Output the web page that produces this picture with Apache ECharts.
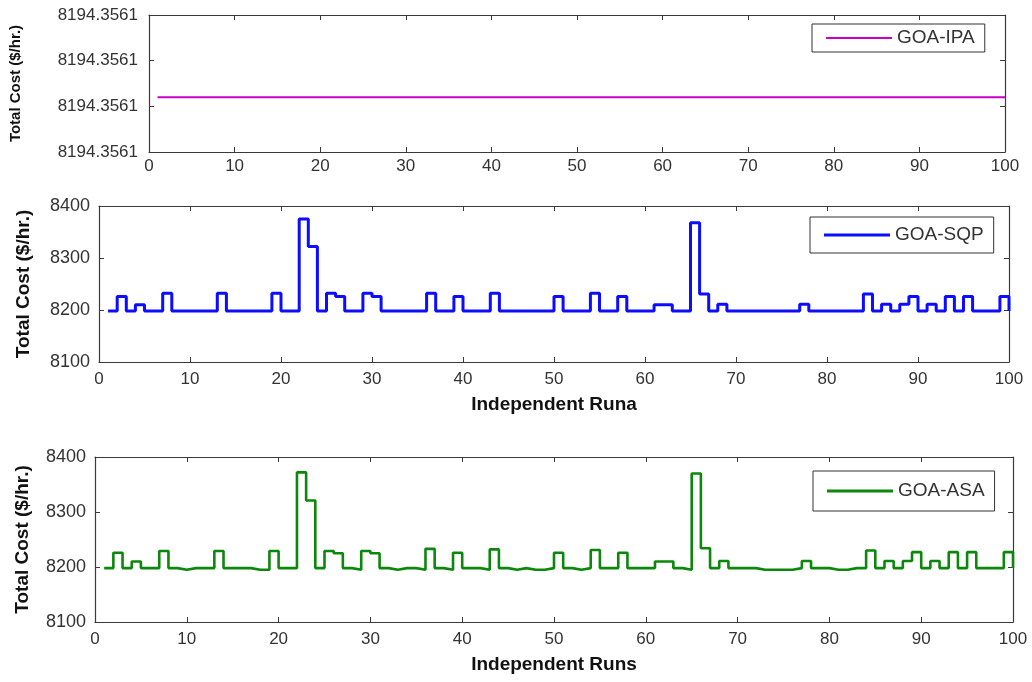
<!DOCTYPE html>
<html><head><meta charset="utf-8">
<script src="https://cdn.jsdelivr.net/npm/echarts@6/dist/echarts.min.js"></script>
<style>html,body{margin:0;padding:0;background:#fff}#c{width:1032px;height:682px}</style>
</head><body><div id="c"></div><script>
// ---- data ----
const X_MIN = 0, X_MAX = 100, X_INTERVAL = 10;
const IPA_NAME = 'GOA-IPA', SQP_NAME = 'GOA-SQP', ASA_NAME = 'GOA-ASA';
const Y_TITLE = 'Total Cost ($/hr.)';
const X_TITLE_2 = 'Independent Runa';
const X_TITLE_3 = 'Independent Runs';
// panel 1 axis (MATLAB shows identical rounded tick labels)
const IPA_Y = { min: 8194.35609, max: 8194.35612, interval: 0.00001 };
const COST_Y = { min: 8100, max: 8400, interval: 100 };

const ipaCost = [
 8194.356102,8194.356102,8194.356102,8194.356102,8194.356102,8194.356102,8194.356102,8194.356102,8194.356102,8194.356102,
 8194.356102,8194.356102,8194.356102,8194.356102,8194.356102,8194.356102,8194.356102,8194.356102,8194.356102,8194.356102,
 8194.356102,8194.356102,8194.356102,8194.356102,8194.356102,8194.356102,8194.356102,8194.356102,8194.356102,8194.356102,
 8194.356102,8194.356102,8194.356102,8194.356102,8194.356102,8194.356102,8194.356102,8194.356102,8194.356102,8194.356102,
 8194.356102,8194.356102,8194.356102,8194.356102,8194.356102,8194.356102,8194.356102,8194.356102,8194.356102,8194.356102,
 8194.356102,8194.356102,8194.356102,8194.356102,8194.356102,8194.356102,8194.356102,8194.356102,8194.356102,8194.356102,
 8194.356102,8194.356102,8194.356102,8194.356102,8194.356102,8194.356102,8194.356102,8194.356102,8194.356102,8194.356102,
 8194.356102,8194.356102,8194.356102,8194.356102,8194.356102,8194.356102,8194.356102,8194.356102,8194.356102,8194.356102,
 8194.356102,8194.356102,8194.356102,8194.356102,8194.356102,8194.356102,8194.356102,8194.356102,8194.356102,8194.356102,
 8194.356102,8194.356102,8194.356102,8194.356102,8194.356102,8194.356102,8194.356102,8194.356102,8194.356102,8194.356102
];
const sqpCost = [
 8198,8226,8198,8210,8198,8198,8232,8198,8198,8198,
 8198,8198,8232,8198,8198,8198,8198,8198,8232,8198,
 8198,8375,8322,8198,8232,8226,8198,8198,8232,8226,
 8198,8198,8198,8198,8198,8232,8198,8198,8226,8198,
 8198,8198,8232,8198,8198,8198,8198,8198,8198,8226,
 8198,8198,8198,8232,8198,8198,8226,8198,8198,8198,
 8210,8210,8198,8198,8368,8231,8198,8211,8198,8198,
 8198,8198,8198,8198,8198,8198,8211,8198,8198,8198,
 8198,8198,8198,8231,8198,8211,8198,8211,8226,8198,
 8211,8198,8226,8198,8226,8198,8198,8198,8226,8198
];
const asaCost = [
 8198,8226,8198,8210,8198,8198,8229,8198,8195,8198,
 8198,8198,8229,8198,8198,8198,8195,8195,8229,8198,
 8198,8372,8321,8198,8229,8225,8198,8195,8229,8225,
 8198,8195,8198,8198,8195,8233,8198,8195,8226,8198,
 8198,8195,8232,8198,8195,8198,8195,8195,8198,8226,
 8198,8195,8198,8231,8198,8198,8226,8198,8198,8198,
 8210,8210,8198,8195,8370,8234,8198,8211,8198,8198,
 8198,8195,8195,8195,8195,8198,8211,8198,8198,8195,
 8195,8198,8198,8230,8198,8211,8198,8211,8227,8198,
 8211,8198,8227,8198,8227,8198,8198,8198,8227,8198
];

// ---- chart ----
const FONT = "'Liberation Sans', Arial, Helvetica, sans-serif";
const AXIS_COLOR = '#3a3a3a';
const LABEL_COLOR = '#333';
const pairs = arr => arr.map((v, i) => [i + 1, v]);

const grids = [
  { left: 148, top: 15, width: 857, height: 137 },
  { left: 99, top: 206, width: 910, height: 156 },
  { left: 95, top: 457, width: 918, height: 165 }
];

function xAxes(gi, name, labelMargin) {
  const base = {
    gridIndex: gi, type: 'value', min: X_MIN, max: X_MAX, interval: X_INTERVAL,
    axisLine: { show: true, onZero: false, lineStyle: { color: AXIS_COLOR, width: 1.2 } },
    axisTick: { show: true, inside: true, length: 5, lineStyle: { color: AXIS_COLOR } },
    splitLine: { show: false }
  };
  return [
    Object.assign({}, base, {
      position: 'bottom',
      axisLabel: { show: true, color: LABEL_COLOR, fontFamily: FONT, fontSize: 17, margin: labelMargin },
      name: name || '', nameLocation: 'middle', nameGap: 33,
      nameTextStyle: { fontFamily: FONT, fontWeight: 'bold', fontSize: 19, color: '#111' }
    }),
    Object.assign({}, base, { position: 'top', axisLabel: { show: false } })
  ];
}
function yAxes(gi, cfg, fmt, nameGap, nameSize, labelSize, labelMargin) {
  const base = {
    gridIndex: gi, type: 'value', min: cfg.min, max: cfg.max, interval: cfg.interval,
    axisLine: { show: true, onZero: false, lineStyle: { color: AXIS_COLOR, width: 1.2 } },
    axisTick: { show: true, inside: true, length: 5, lineStyle: { color: AXIS_COLOR } },
    splitLine: { show: false }
  };
  return [
    Object.assign({}, base, {
      position: 'left',
      axisLabel: { show: true, color: LABEL_COLOR, fontFamily: FONT, fontSize: labelSize, margin: labelMargin, formatter: fmt },
      name: Y_TITLE, nameLocation: 'middle', nameGap: nameGap, nameRotate: 90,
      nameTextStyle: { fontFamily: FONT, fontWeight: 'bold', fontSize: nameSize, color: '#111' }
    }),
    Object.assign({}, base, { position: 'right', axisLabel: { show: false } })
  ];
}

const xAxis = [].concat(xAxes(0, '', 6), xAxes(1, X_TITLE_2, 9), xAxes(2, X_TITLE_3, 9));
const yAxis = [].concat(
  yAxes(0, IPA_Y, v => Number(v).toFixed(4), 126, 15, 17, 11),
  yAxes(1, COST_Y, v => String(Math.round(v)), 66, 19, 18, 9),
  yAxes(2, COST_Y, v => String(Math.round(v)), 63, 19, 18, 9)
);

function legendBox(name, left, top, vpad, lineH) {
  return {
    data: [name], left: left, top: top, orient: 'horizontal',
    backgroundColor: '#fff', borderColor: '#333', borderWidth: 1, borderRadius: 0,
    padding: [vpad, 10, vpad, 14], itemWidth: 66, itemHeight: lineH, itemGap: 0,
    icon: 'rect',
    textStyle: { fontFamily: FONT, fontSize: 19, color: '#333', lineHeight: 20 },
    selectedMode: false
  };
}

const option = {
  animation: false,
  backgroundColor: '#fff',
  grid: grids,
  xAxis: xAxis,
  yAxis: yAxis,
  legend: [
    legendBox(IPA_NAME, 812, 24, 4, 2),
    legendBox(SQP_NAME, 810, 217, 8, 3),
    legendBox(ASA_NAME, 813, 471, 10, 3)
  ],
  series: [
    { name: IPA_NAME, type: 'line', xAxisIndex: 0, yAxisIndex: 0, data: pairs(ipaCost), step: 'end',
      symbol: 'none', lineStyle: { color: '#c800c8', width: 2 }, itemStyle: { color: '#c800c8' } },
    { name: SQP_NAME, type: 'line', xAxisIndex: 2, yAxisIndex: 2, data: pairs(sqpCost), step: 'end',
      symbol: 'none', lineStyle: { color: '#0c0cff', width: 3 }, itemStyle: { color: '#0c0cff' } },
    { name: ASA_NAME, type: 'line', xAxisIndex: 4, yAxisIndex: 4, data: pairs(asaCost), step: 'end',
      symbol: 'none', lineStyle: { color: '#0b870b', width: 2.6 }, itemStyle: { color: '#0b870b' } }
  ]
};
const chart = echarts.init(document.getElementById('c'), null, { renderer: 'canvas' });
chart.setOption(option);
</script></body></html>
